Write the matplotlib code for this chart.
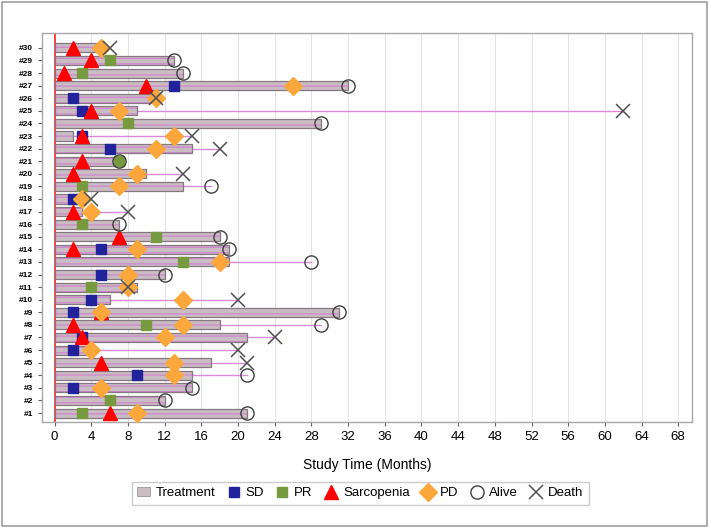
import matplotlib.pyplot as plt
import numpy as np
from matplotlib.patches import Patch, Rectangle
from matplotlib.lines import Line2D

plt.rcParams['font.family'] = ['Liberation Sans', 'DejaVu Sans']

# patient number -> treatment end, end of follow-up, status
patients = list(range(1, 31))
treat_end = [21, 12, 15, 15, 17, 3.5, 21, 18, 31, 6,
             9, 12, 19, 19, 18, 7, 3, 2.5, 14, 10,
             7, 15, 2, 29, 9, 10.5, 32, 14, 13, 4.5]
follow_end = [21, 12, 15, 21, 21, 20, 24, 29, 31, 20,
              8, 12, 28, 19, 18, 7, 8, 4, 17, 14,
              7, 18, 15, 29, 62, 11, 32, 14, 13, 6]
status = ['Alive', 'Alive', 'Alive', 'Alive', 'Death', 'Death', 'Death', 'Alive', 'Alive', 'Death',
          'Death', 'Alive', 'Alive', 'Alive', 'Alive', 'Alive', 'Death', 'Death', 'Alive', 'Death',
          'Alive', 'Death', 'Death', 'Alive', 'Death', 'Death', 'Alive', 'Alive', 'Alive', 'Death']

# events: (patient, month)
sd_pat = [3, 4, 6, 7, 9, 10, 12, 14, 18, 22, 23, 25, 26, 27]
sd_time = [2, 9, 2, 3, 2, 4, 5, 5, 2, 6, 3, 3, 2, 13]
pr_pat = [1, 2, 8, 11, 13, 15, 16, 19, 21, 24, 28, 29]
pr_time = [3, 6, 10, 4, 14, 11, 3, 3, 7, 8, 3, 6]
sarc_pat = [1, 5, 7, 8, 9, 14, 15, 17, 20, 21, 23, 25, 27, 28, 29, 30]
sarc_time = [6, 5, 3, 2, 5, 2, 7, 2, 2, 3, 3, 4, 10, 1, 4, 2]
pd_pat = [1, 3, 4, 5, 6, 7, 8, 9, 10, 11, 12, 13, 14, 17, 18, 19, 20, 22, 23, 25, 26, 27, 30]
pd_time = [9, 5, 13, 13, 4, 12, 14, 5, 14, 8, 8, 18, 9, 4, 3, 7, 9, 11, 13, 7, 11, 26, 5]

ylabels = ['#%d' % p for p in patients]
xticks = np.arange(0, 69, 4)

fig = plt.figure(figsize=(7.09, 5.28), dpi=100)
ax = fig.add_axes([0.059, 0.201, 0.917, 0.737])

# vertical reference grid
for t in xticks:
    ax.axvline(t, color='#e3e3e3', lw=0.8, zorder=0)
ax.axvline(0, color='#ff2020', lw=1.2, zorder=1)

# follow-up lines after treatment
for p, te, fe in zip(patients, treat_end, follow_end):
    if fe > te:
        ax.plot([te, fe], [p, p], color='#d98ad9', lw=1.0, zorder=2)

# treatment bars with stripe pattern
plt.rcParams['hatch.linewidth'] = 0.8
ax.barh(patients, treat_end, height=0.72, color='#c9bcc2', edgecolor='#d27fd2',
        hatch='---', lw=0, zorder=3)
ax.barh(patients, treat_end, height=0.72, fill=False, edgecolor='#857880', lw=0.9, zorder=3)

ax.plot(sd_time, sd_pat, 's', color='#22229a', ms=7, ls='none', zorder=4)
ax.plot(pr_time, pr_pat, 's', color='#789a3e', ms=7, ls='none', zorder=4)
ax.plot(sarc_time, sarc_pat, '^', color='#ff0000', ms=10, ls='none', zorder=5)
ax.plot(pd_time, pd_pat, 'D', color='#fba73c', ms=9, ls='none', zorder=6)

alive_p = [p for p, s in zip(patients, status) if s == 'Alive']
alive_t = [f for f, s in zip(follow_end, status) if s == 'Alive']
death_p = [p for p, s in zip(patients, status) if s == 'Death']
death_t = [f for f, s in zip(follow_end, status) if s == 'Death']
ax.plot(alive_t, alive_p, 'o', mfc='none', mec='#404040', mew=1.0, ms=9.5, ls='none', zorder=7)
ax.plot(death_t, death_p, 'x', color='#505050', mew=1.1, ms=10, ls='none', zorder=7)

ax.set_xlim(-1.4, 69.5)
ax.set_ylim(0.3, 31.2)
ax.set_xticks(xticks)
ax.set_xticklabels([str(t) for t in xticks], fontsize=9.5)
ax.set_yticks(patients)
ax.set_yticklabels(ylabels, fontsize=6, fontweight='bold')
ax.tick_params(axis='both', length=3, color='#606060', width=0.8)
ax.set_xlabel('Study Time (Months)', fontsize=10, labelpad=11)
for sp in ax.spines.values():
    sp.set_color('#a8a8a8')
    sp.set_linewidth(1.0)

handles = [
    Patch(facecolor='#c9bcc2', edgecolor='#a0969a', lw=0.6),
    Line2D([], [], marker='s', color='#22229a', ls='none', ms=7),
    Line2D([], [], marker='s', color='#789a3e', ls='none', ms=7),
    Line2D([], [], marker='^', color='#ff0000', ls='none', ms=10),
    Line2D([], [], marker='D', color='#fba73c', ls='none', ms=9),
    Line2D([], [], marker='o', mfc='none', mec='#404040', ls='none', ms=9.5),
    Line2D([], [], marker='x', color='#505050', mew=1.1, ls='none', ms=10),
]
labels = ['Treatment', 'SD', 'PR', 'Sarcopenia', 'PD', 'Alive', 'Death']
leg = fig.legend(handles, labels, loc='center', bbox_to_anchor=(0.508, 0.066), ncol=7,
                 fontsize=9.5, frameon=True, fancybox=False, handlelength=1.0,
                 handletextpad=0.4, columnspacing=0.9, borderpad=0.4)
leg.get_frame().set_edgecolor('#c0c0c0')
leg.get_frame().set_linewidth(1.0)

# outer frame
fig.patches.append(Rectangle((0.003, 0.004), 0.994, 0.992, transform=fig.transFigure,
                             fill=False, edgecolor='#a0a0a0', lw=1.2))

fig.savefig('out.png', dpi=100)
